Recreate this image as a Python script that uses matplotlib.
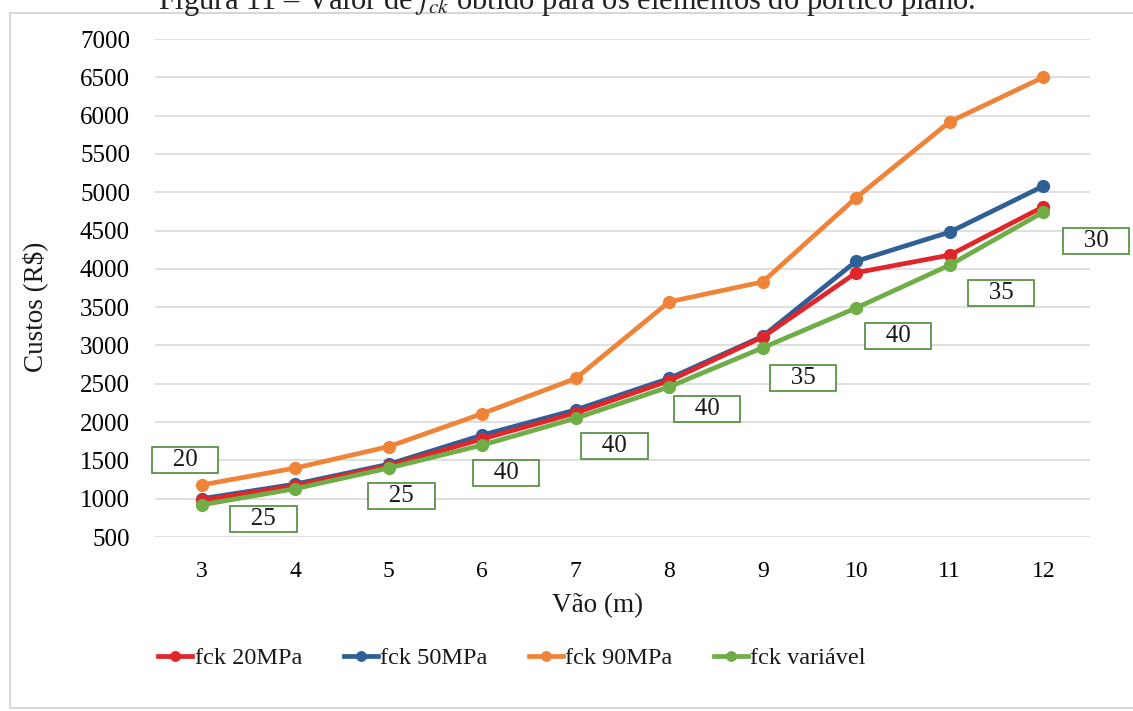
import matplotlib.pyplot as plt
import matplotlib.patches as mpatches
import numpy as np

RED    = '#e0262b'
BLUE   = '#2e5f96'
ORANGE = '#ef8438'
GREEN  = '#6fad47'
BOXG   = '#4e8a3a'

plt.rcParams.update({
    'font.family': 'Liberation Serif',
    'mathtext.fontset': 'stix',
    'text.color': '#1a1a1a',
})

# ── Data ───────────────────────────────────────────────────────────
vao = [3, 4, 5, 6, 7, 8, 9, 10, 11, 12]
fck20 = [980, 1170, 1430, 1780, 2120, 2540, 3110, 3950, 4180, 4810]
fck50 = [1000, 1190, 1450, 1830, 2160, 2570, 3120, 4100, 4480, 5080]
fck90 = [1180, 1400, 1680, 2110, 2570, 3570, 3830, 4930, 5920, 6500]
fckvar = [920, 1130, 1400, 1700, 2050, 2460, 2970, 3490, 4050, 4740]
fck_labels = ['20', '25', '25', '40', '40', '40', '35', '40', '35', '30']

# label offsets (points) relative to green markers
lbl_off = [(-12, 32), (-23, -22), (9, -20), (17, -20), (28, -20),
           (27, -16), (29, -22), (30, -20), (37, -20), (38, -21)]

W, H = 1133, 711
fig = plt.figure(figsize=(W / 100, H / 100), dpi=100)

# caption, cut at the top like the page crop
fig.text(0.5, 1 - 9 / H, r'Figura 11 – Valor de $f_{ck}$ obtido para os elementos do pórtico plano.',
         ha='center', va='baseline', fontsize=22, color='#222222')

# chart frame
fig.patches.append(mpatches.Rectangle((10 / W, 3 / H), 1.2, 695 / H,
                                      transform=fig.transFigure, fill=False,
                                      edgecolor='#d0d0d0', linewidth=1.2))

ax = fig.add_axes([155 / W, 1 - 537 / H, (1090 - 155) / W, (537 - 39) / H])

x = np.arange(len(vao))
series = [(fck20, RED, 'fck 20MPa', 3.1), (fck50, BLUE, 'fck 50MPa', 3.0),
          (fck90, ORANGE, 'fck 90MPa', 3.0), (fckvar, GREEN, 'fck variável', 3.2)]
handles = []
for vals, col, lab, z in series:
    h, = ax.plot(x, vals, '-o', color=col, lw=3.4, ms=8.5, label=lab, zorder=z)
    handles.append(h)

for i, (lbl, off) in enumerate(zip(fck_labels, lbl_off)):
    ax.annotate('   ' + lbl + '   ', xy=(x[i], fckvar[i]), xytext=off,
                textcoords='offset points', ha='center', va='center', fontsize=18,
                bbox=dict(boxstyle='square,pad=0.08', fc='white', ec=BOXG, lw=1.2))

ax.set_xlim(-0.5, len(vao) - 0.5)
ax.set_ylim(500, 7000)
ax.set_yticks(np.arange(500, 7001, 500))
ax.set_xticks(x)
ax.set_xticklabels([str(v) for v in vao])
ax.tick_params(axis='both', length=0)
ax.tick_params(axis='x', labelsize=17, pad=17)
ax.tick_params(axis='y', labelsize=18, pad=18)
ax.grid(axis='y', color='#d9d9d9', lw=1.2)
ax.set_axisbelow(True)
for s in ax.spines.values():
    s.set_visible(False)

fig.text(598 / W, 1 - 606 / H, 'Vão (m)', ha='center', va='center', fontsize=19.5)
fig.text(35 / W, 1 - 307 / H, 'Custos (R$)', ha='center', va='center',
         rotation=90, fontsize=19.5)

fig.legend(handles=handles, loc='center',
           bbox_to_anchor=(512 / W, 1 - 658 / H), ncol=4, frameon=False,
           fontsize=17.5, handlelength=1.4, handletextpad=0.1, columnspacing=1.7,
           markerscale=0.8)

fig.savefig('out.png', dpi=100)
